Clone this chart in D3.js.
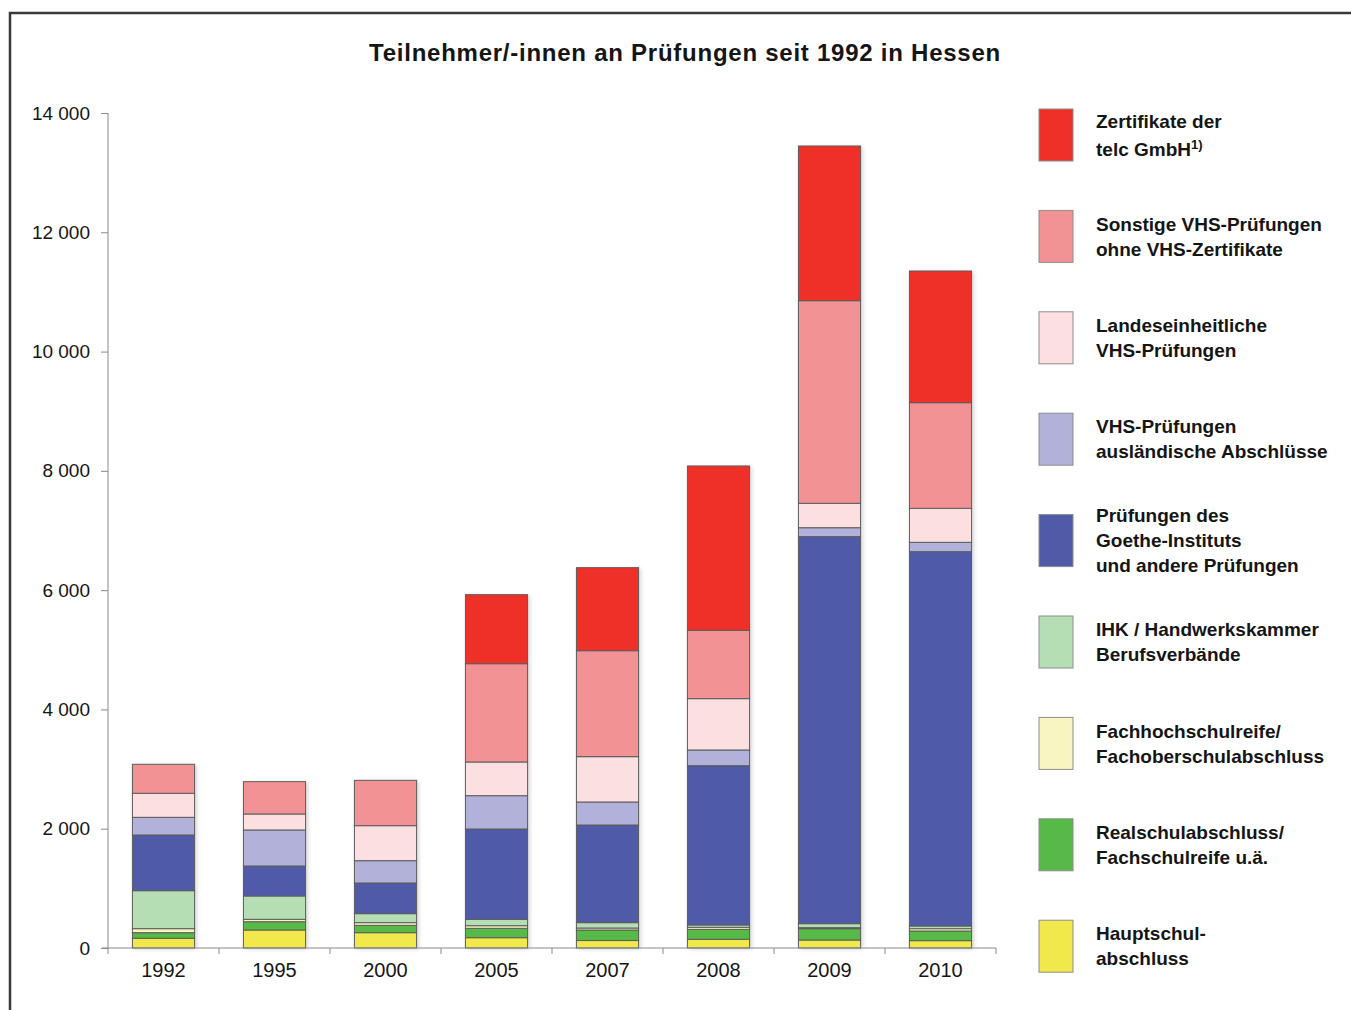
<!DOCTYPE html>
<html>
<head>
<meta charset="utf-8">
<script src="https://cdn.jsdelivr.net/npm/d3@7"></script>
<style>
    body { margin: 0; background: #fff; }
    text { font-family: "Liberation Sans", Arial, sans-serif; fill: #151515; }
    .axisG path, .axisG line { stroke: #8a8a8a; }
</style>
</head>
<body>
<div id="chart"></div>
<script>
'use strict';

/*
Data, stack order bottom -> top
 */
const years = ['1992', '1995', '2000', '2005', '2007', '2008', '2009', '2010'];
const hauptschul = [163, 302, 257, 173, 125, 146, 134, 123];
const realschul = [94, 139, 123, 157, 177, 167, 190, 162];
const fachhochschul = [67, 40, 45, 44, 33, 34, 17, 39];
const ihk = [637, 391, 151, 107, 90, 39, 67, 45];
const goethe = [934, 503, 514, 1514, 1637, 2671, 6489, 6276];
const vhsAusl = [296, 604, 374, 559, 386, 263, 150, 157];
const landes = [403, 268, 587, 565, 760, 861, 409, 570];
const sonstige = [486, 542, 760, 1648, 1777, 1146, 3397, 1771];
const telc = [0, 0, 0, 1157, 1392, 2755, 2594, 2208];
const yTicks = [0, 2000, 4000, 6000, 8000, 10000, 12000, 14000];

const series = [
    {key: 'hauptschul', values: hauptschul, color: '#f1e94c', label: ['Hauptschul-', 'abschluss']},
    {key: 'realschul', values: realschul, color: '#57b947', label: ['Realschulabschluss/', 'Fachschulreife u.ä.']},
    {key: 'fachhochschul', values: fachhochschul, color: '#f8f5c0', label: ['Fachhochschulreife/', 'Fachoberschulabschluss']},
    {key: 'ihk', values: ihk, color: '#b6deb4', label: ['IHK / Handwerkskammer', 'Berufsverbände']},
    {key: 'goethe', values: goethe, color: '#4f5aa9', label: ['Prüfungen des', 'Goethe-Instituts', 'und andere Prüfungen']},
    {key: 'vhsAusl', values: vhsAusl, color: '#b1b1d9', label: ['VHS-Prüfungen', 'ausländische Abschlüsse']},
    {key: 'landes', values: landes, color: '#fce0e1', label: ['Landeseinheitliche', 'VHS-Prüfungen']},
    {key: 'sonstige', values: sonstige, color: '#f39295', label: ['Sonstige VHS-Prüfungen', 'ohne VHS-Zertifikate']},
    {key: 'telc', values: telc, color: '#ee3029', label: ['Zertifikate der', 'telc GmbH']}
];

// Build rows for d3.stack
const rows = years.map((y, i) => {
    const row = {year: y};
    series.forEach(s => row[s.key] = s.values[i]);
    return row;
});

/*
Config
 */
const svgW = 1351;
const svgH = 1010;
const plotTop = 113;
const plotBottom = 948;
const plotLeft = 108;
const plotRight = 996;

// Tools
const yScale = d3.scaleLinear()
    .domain([0, 14000])
    .range([plotBottom, plotTop]);
const xScale = d3.scaleBand()
    .domain(years)
    .range([plotLeft, plotRight])
    .paddingInner(0.44)
    .paddingOuter(0.22);
const stack = d3.stack()
    .keys(series.map(s => s.key));
const colorOf = {};
series.forEach(s => colorOf[s.key] = s.color);

/*
Draw
 */
const svg = d3.select('#chart')
    .append('svg')
    .attr('width', svgW)
    .attr('height', svgH);

// Drop shadow for the bars
const defs = svg.append('defs');
defs.append('filter')
    .attr('id', 'shadow')
    .attr('x', '-20%').attr('y', '-5%').attr('width', '140%').attr('height', '110%')
    .append('feDropShadow')
    .attr('dx', 2).attr('dy', 1).attr('stdDeviation', 2)
    .attr('flood-color', '#000').attr('flood-opacity', 0.18);

// Frame
svg.append('rect')
    .attr('x', 10)
    .attr('y', 13)
    .attr('width', svgW)
    .attr('height', svgH)
    .attr('fill', 'none')
    .attr('stroke', '#3a3a3a')
    .attr('stroke-width', 2.5);

// Title
svg.append('text')
    .attr('x', 685)
    .attr('y', 61)
    .attr('text-anchor', 'middle')
    .style('font-size', '24px')
    .style('font-weight', 'bold')
    .style('letter-spacing', '0.75px')
    .text('Teilnehmer/-innen an Prüfungen seit 1992 in Hessen');

// Bars
const stacked = stack(rows);
const totals = years.map((y, i) => d3.sum(series, s => s.values[i]));
const barsG = svg.append('g').attr('class', 'barsG');
barsG.selectAll('.shadowRect')
    .data(years)
    .join('rect')
    .attr('class', 'shadowRect')
    .attr('x', d => xScale(d))
    .attr('y', (d, i) => yScale(totals[i]))
    .attr('width', xScale.bandwidth())
    .attr('height', (d, i) => yScale(0) - yScale(totals[i]))
    .attr('fill', '#fff')
    .attr('filter', 'url(#shadow)');
barsG.selectAll('.layer')
    .data(stacked)
    .join('g')
    .attr('class', 'layer')
    .attr('fill', d => colorOf[d.key])
    .selectAll('rect')
    .data(d => d.filter(p => p[1] > p[0]))
    .join('rect')
    .attr('x', d => xScale(d.data.year))
    .attr('y', d => yScale(d[1]))
    .attr('width', xScale.bandwidth())
    .attr('height', d => yScale(d[0]) - yScale(d[1]))
    .attr('stroke', '#5c5c5c')
    .attr('stroke-width', 1);

// Y axis
const yAxis = d3.axisLeft(yScale)
    .tickValues(yTicks)
    .tickSize(7)
    .tickPadding(11)
    .tickSizeOuter(0)
    .tickFormat(d => d3.format(',')(d).replace(',', ' '));
const yAxisG = svg.append('g')
    .attr('class', 'axisG')
    .attr('transform', `translate(${plotLeft},0)`)
    .call(yAxis);
yAxisG.selectAll('text')
    .style('font-size', '19px')
    .style('fill', '#151515');
yAxisG.select('.domain').remove();
yAxisG.append('line')
    .attr('x1', 0).attr('x2', 0)
    .attr('y1', plotTop).attr('y2', plotBottom)
    .attr('stroke', '#8a8a8a');

// X axis: labels at band centers, ticks at band boundaries
const xAxis = d3.axisBottom(xScale)
    .tickSize(0)
    .tickPadding(15)
    .tickSizeOuter(0);
const xAxisG = svg.append('g')
    .attr('class', 'axisG')
    .attr('transform', `translate(0,${plotBottom})`)
    .call(xAxis);
xAxisG.select('.domain').remove();
xAxisG.selectAll('text')
    .style('font-size', '20px')
    .style('fill', '#151515');
xAxisG.append('line')
    .attr('x1', plotLeft - 6).attr('x2', plotRight)
    .attr('y1', 0).attr('y2', 0)
    .attr('stroke', '#8a8a8a');
xAxisG.selectAll('.bTick')
    .data(d3.range(years.length + 1))
    .join('line')
    .attr('class', 'bTick')
    .attr('x1', i => plotLeft + i * xScale.step())
    .attr('x2', i => plotLeft + i * xScale.step())
    .attr('y1', 0)
    .attr('y2', 6)
    .attr('stroke', '#8a8a8a');

// Legend (top -> bottom is reverse stack order)
const legendItems = series.slice().reverse();
const legendG = svg.append('g').attr('class', 'legendG');
const lgTop = 109;
const lgStep = 101.4;
const swW = 34;
const swH = 52;
const lineH = 25;
legendItems.forEach((s, i) => {
    const top = lgTop + i * lgStep;
    legendG.append('rect')
        .attr('x', 1039)
        .attr('y', top)
        .attr('width', swW)
        .attr('height', swH)
        .attr('fill', s.color)
        .attr('stroke', '#8c8c8c')
        .attr('stroke-width', 1);
    const mid = top + swH / 2;
    const gap = s.key === 'telc' ? 28 : lineH;
    const first = mid - (s.label.length - 1) * gap / 2;
    s.label.forEach((line, j) => {
        const t = legendG.append('text')
            .attr('x', 1096)
            .attr('y', first + j * gap)
            .attr('dy', '0.35em')
            .style('font-size', '19px')
            .style('font-weight', 'bold')
            .text(line);
        if (s.key === 'telc' && j === 1) {
            t.append('tspan')
                .attr('dy', '-0.5em')
                .style('font-size', '13px')
                .text('1)');
        }
    });
});
</script>
</body>
</html>
